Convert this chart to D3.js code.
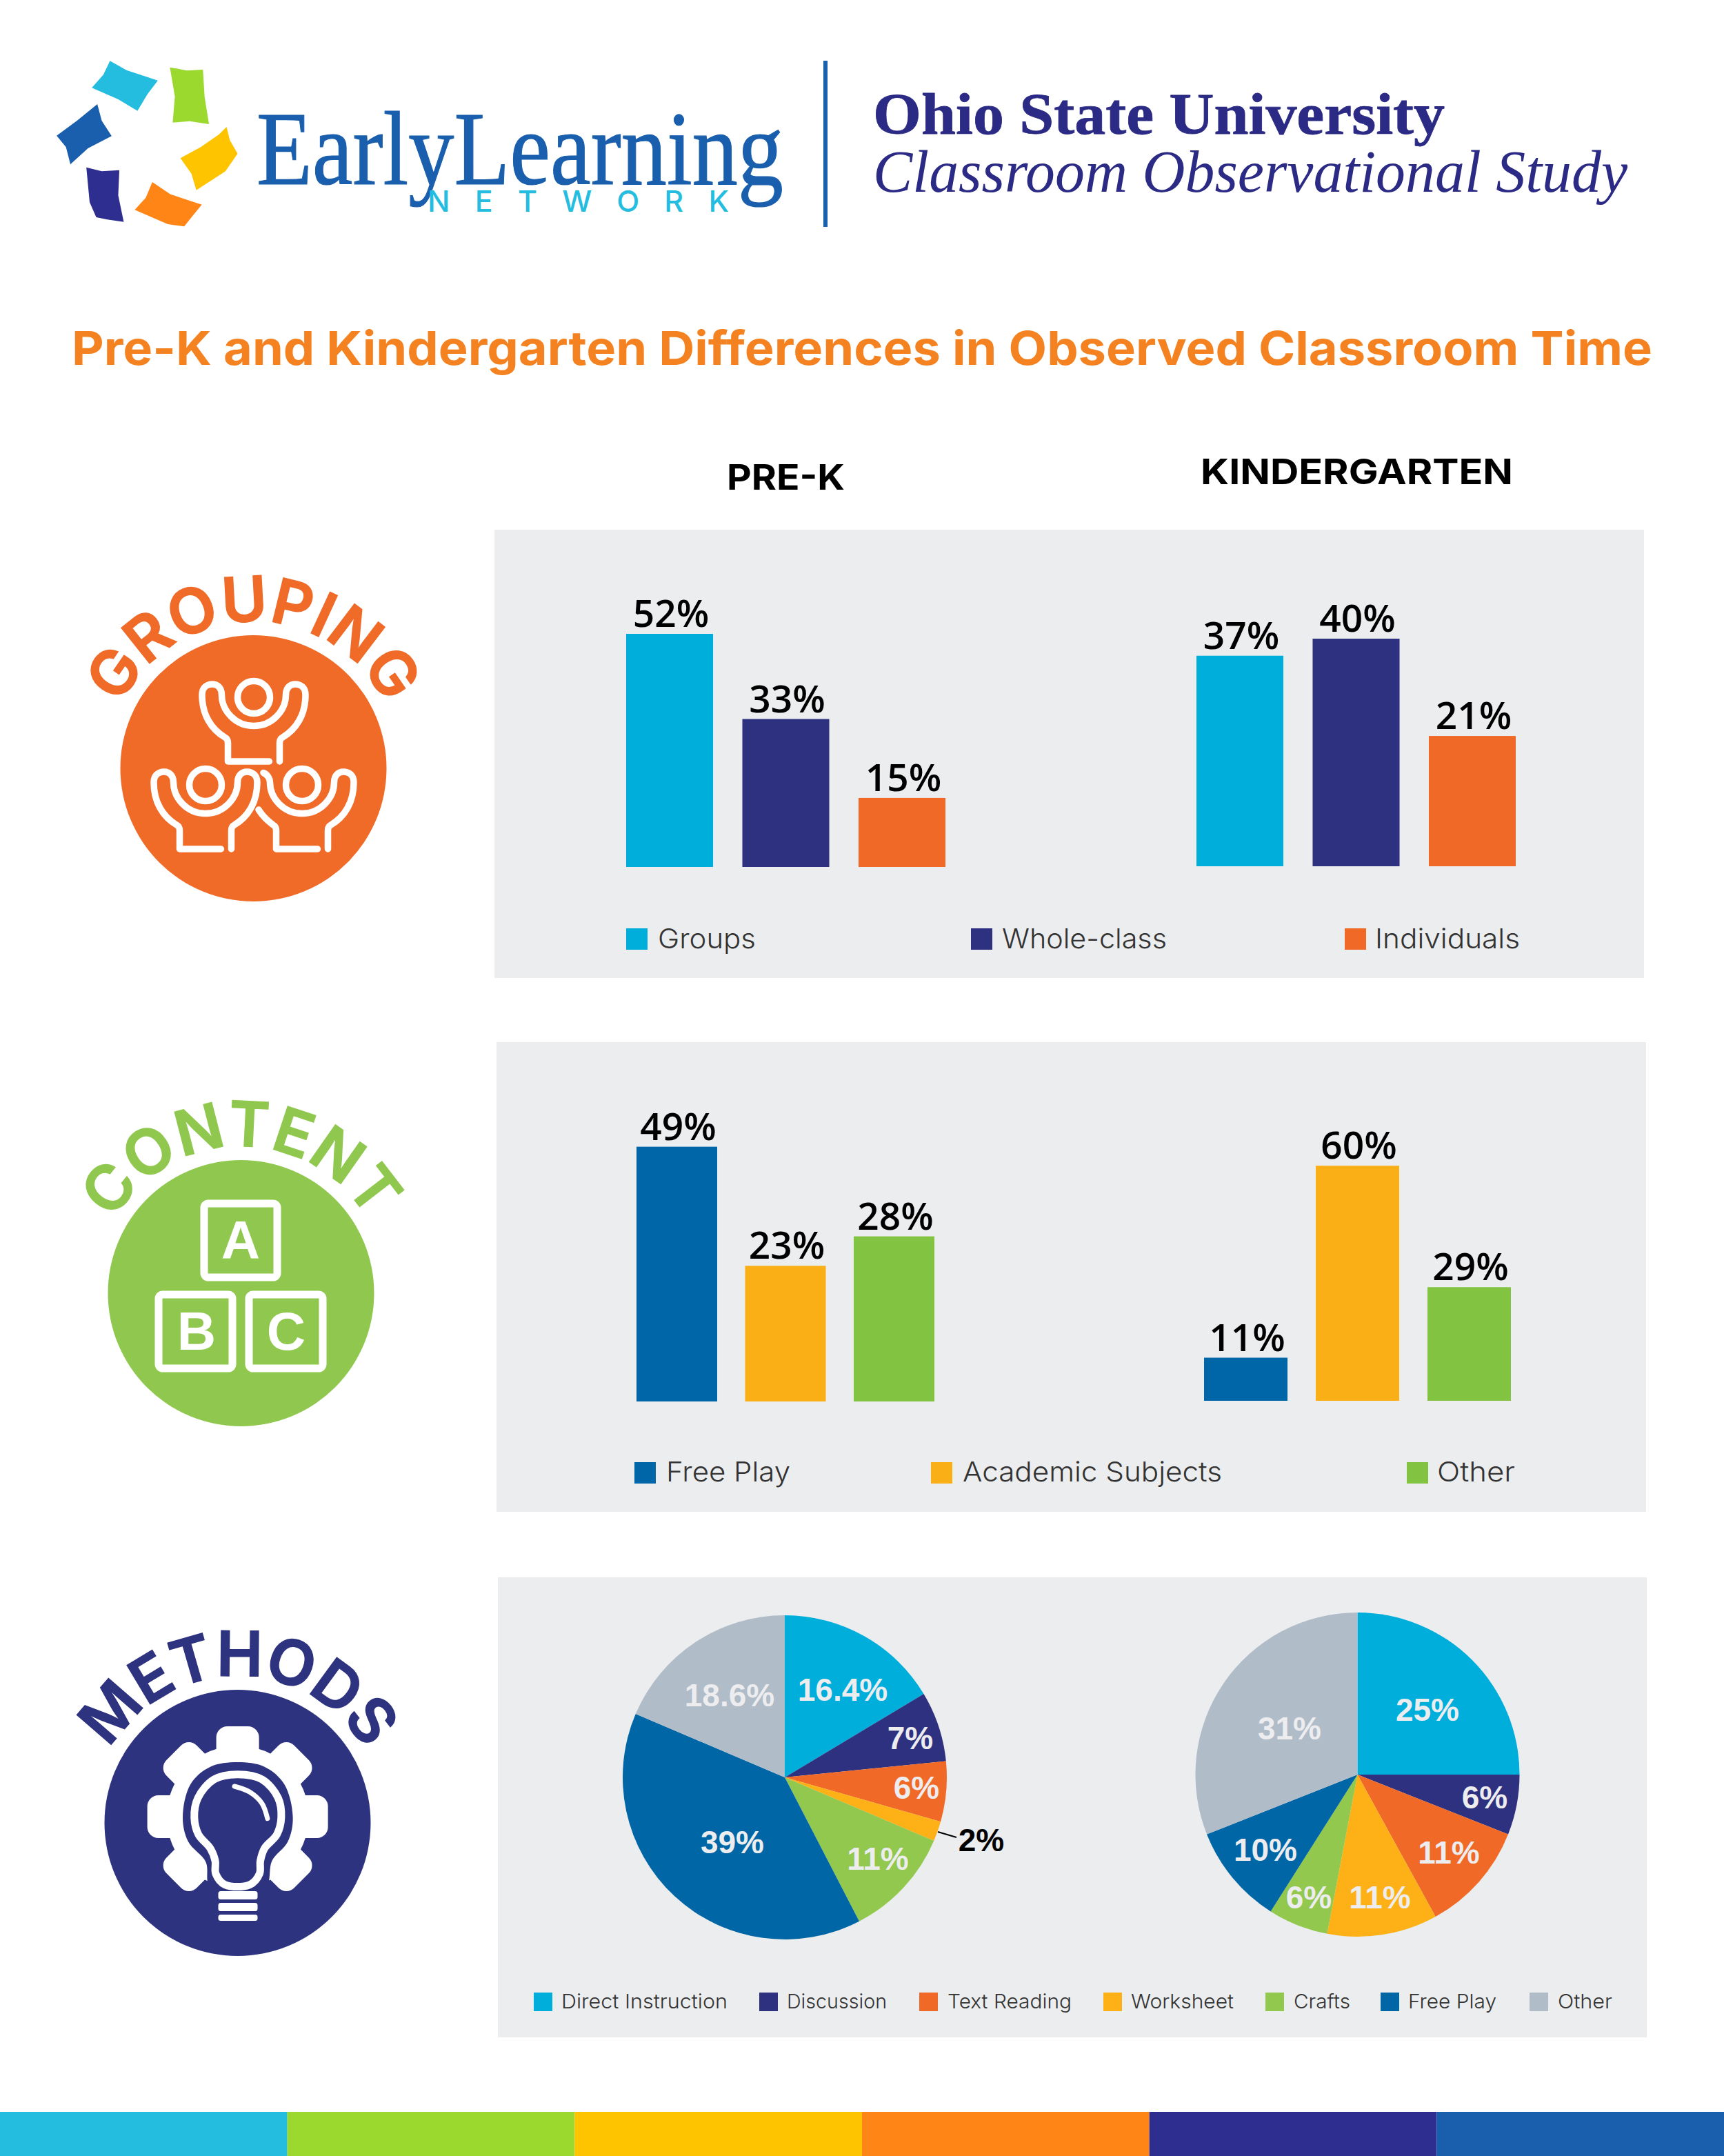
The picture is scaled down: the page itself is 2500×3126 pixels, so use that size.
<!DOCTYPE html>
<html>
<head>
<meta charset="utf-8">
<script src="https://cdn.jsdelivr.net/npm/d3@7"></script>
<style>
  body { margin: 0; background: #fff; }
  text { font-family: Inter, sans-serif; }
</style>
</head>
<body>
<div id="chart"></div>
<script>
// printed labels
var groupingNames = ["Groups", "Whole-class", "Individuals"];
var groupingPreK = [52, 33, 15];
var groupingKinder = [37, 40, 21];
var contentNames = ["Free Play", "Academic Subjects", "Other"];
var contentPreK = [49, 23, 28];
var contentKinder = [11, 60, 29];
var methodNames = ["Direct Instruction", "Discussion", "Text Reading", "Worksheet", "Crafts", "Free Play", "Other"];
var methodsPreK = [16.4, 7, 6, 2, 11, 39, 18.6];
var methodsKinder = [25, 6, 11, 11, 6, 10, 31];

// the poster's bars are not all to scale with their own labels, these are the drawn lengths
var groupingPreKDrawn = [52, 33, 15.4];
var groupingKinderDrawn = [37, 40, 22.9];
var contentPreKDrawn = [43.2, 23, 28];
var contentKinderDrawn = [11, 60, 29];

var width = 2500, height = 3126;
var svg = d3.select("#chart").append("svg").attr("width", width).attr("height", height).style("display", "block");
svg.append("rect").attr("width", width).attr("height", height).attr("fill", "#fff");

var blue = "#00AEDB", navy = "#2E3180", orange = "#F06926", amber = "#FBAF17", steel = "#0066A8", lime = "#82C341";
var pieGreen = "#91C84D", grey = "#B0BCC8", panelBg = "#ECEDEF";

// header
var curve = d3.line().curve(d3.curveLinear);
var logoCrop = function(p) { return [p[0] / 1.254, 40 + p[1] / 3]; };
var logoShapes = [
  ["#24BDE0", [[200,145],[230,185],[287,230],[268,290],[250,362],[215,312],[167,262],[188,205]]],
  ["#9BD92F", [[309,173],[340,187],[369,183],[372,300],[380,420],[345,407],[314,413],[318,300]]],
  ["#1A5FAD", [[177,333],[185,405],[203,472],[160,525],[128,595],[120,520],[103,470],[140,405]]],
  ["#FFC400", [[412,432],[418,490],[432,548],[410,625],[357,707],[348,635],[328,568],[365,520],[398,465]]],
  ["#2E2E90", [[157,608],[185,625],[217,620],[215,730],[225,845],[195,835],[175,825],[163,760]]],
  ["#FF8516", [[277,672],[310,725],[367,770],[350,820],[335,865],[305,855],[245,793],[265,740]]]
];
svg.append("g").selectAll("path").data(logoShapes).enter().append("path")
  .attr("fill", function(d) { return d[0]; })
  .attr("d", function(d) { return curve(d[1].map(logoCrop)) + "Z"; });

function fitText(x, y, txt, len, size, fill, family, weight, style, anchor) {
  return svg.append("text").attr("x", x).attr("y", y).text(txt)
    .attr("textLength", len).attr("lengthAdjust", "spacingAndGlyphs")
    .attr("font-size", size).attr("fill", fill)
    .style("font-family", family).style("font-weight", weight || 400).style("font-style", style || "normal")
    .attr("text-anchor", anchor || "start");
}

var serif = "'Liberation Serif', serif";
fitText(372, 267, "EarlyLearning", 764, 152, "#1A5FAD", serif).attr("stroke", "#1A5FAD").attr("stroke-width", 1.2);
svg.append("text").attr("x", 620).attr("y", 307).text("NETWORK")
  .attr("textLength", 437).attr("lengthAdjust", "spacing")
  .attr("font-size", 43).attr("fill", "#24BDE0").style("font-family", "Inter, sans-serif").style("font-weight", 500);
svg.append("rect").attr("x", 1194).attr("y", 88).attr("width", 6).attr("height", 241).attr("fill", "#1A5FAD");
fitText(1266, 194, "Ohio State University", 829, 84, "#2B2A85", serif, 700).attr("stroke", "#2B2A85").attr("stroke-width", 0.8);
fitText(1266, 278, "Classroom Observational Study", 1094, 86, "#2B2A85", serif, 400, "italic");

fitText(104, 529, "Pre-K and Kindergarten Differences in Observed Classroom Time", 2292, 68, "#F58220", "Inter, sans-serif", 700);
fitText(1054, 710, "PRE-K", 171, 51, "#000", "Inter, sans-serif", 700);
fitText(1741, 702, "KINDERGARTEN", 453, 51, "#000", "Inter, sans-serif", 700);

// panels
var panels = [[717, 768, 1667, 650], [720, 1511, 1667, 681], [722, 2287, 1666, 667]];
svg.append("g").selectAll("rect").data(panels).enter().append("rect")
  .attr("x", function(d) { return d[0]; }).attr("y", function(d) { return d[1]; })
  .attr("width", function(d) { return d[2]; }).attr("height", function(d) { return d[3]; })
  .attr("fill", panelBg);

// bars: x edges of each chart come from a band scale, y from a per-chart linear scale
function barChart(labels, drawn, names, colors, left, right, baseline, pxPerUnit, padding) {
  var x = d3.scaleBand().domain(names).range([left, right]).paddingInner(padding);
  var top = d3.max(drawn);
  var y = d3.scaleLinear().domain([0, top]).range([baseline, baseline - top * pxPerUnit]);
  var g = svg.append("g");
  g.selectAll("rect").data(names).enter().append("rect")
    .attr("x", function(d) { return x(d); })
    .attr("width", x.bandwidth())
    .attr("y", function(d, i) { return y(drawn[i]); })
    .attr("height", function(d, i) { return baseline - y(drawn[i]); })
    .attr("fill", function(d, i) { return colors[i]; });
  g.selectAll("text").data(names).enter().append("text")
    .attr("x", function(d) { return x(d) + x.bandwidth() / 2 + 2; })
    .attr("y", function(d, i) { return y(drawn[i]) - 10; })
    .attr("text-anchor", "middle")
    .attr("font-size", 55)
    .style("font-family", "'Open Sans', sans-serif").style("font-weight", 600)
    .attr("fill", "#000")
    .text(function(d, i) { return labels[i] + "%"; });
}
var groupingColors = [blue, navy, orange];
var contentColors = [steel, amber, lime];
barChart(groupingPreK, groupingPreKDrawn, groupingNames, groupingColors, 908, 1371, 1257, 6.5, 0.252);
barChart(groupingKinder, groupingKinderDrawn, groupingNames, groupingColors, 1735, 2198, 1256, 8.25, 0.252);
barChart(contentPreK, contentPreKDrawn, contentNames, contentColors, 923, 1355, 2032, 8.55, 0.257);
barChart(contentKinder, contentKinderDrawn, contentNames, contentColors, 1746, 2191, 2031, 5.68, 0.253);

// legends
function legend(names, colors, swatchX, textX, textEnd, swatchY, sw, sh, baseline, size) {
  names.forEach(function(n, i) {
    svg.append("rect").attr("x", swatchX[i]).attr("y", swatchY).attr("width", sw).attr("height", sh).attr("fill", colors[i]);
    fitText(textX[i], baseline, n, textEnd[i] - textX[i], size, "#333", "Inter, sans-serif", 300);
  });
}
legend(groupingNames, groupingColors, [908, 1408, 1950], [954, 1453, 1994], [1096, 1692, 2204], 1346, 31, 31, 1375, 40);
legend(contentNames, contentColors, [920, 1350, 2040], [966, 1396, 2084], [1146, 1772, 2197], 2120, 31, 31, 2148, 40);
var pieColors = [blue, navy, orange, "#FDB116", pieGreen, "#0066A6", grey];
legend(methodNames, pieColors, [774, 1101, 1333, 1600, 1835, 2002, 2218],
  [814, 1141, 1374, 1640, 1876, 2042, 2259], [1055, 1286, 1554, 1789, 1958, 2170, 2338], 2889, 27, 27, 2912, 29);

// pies
var pie = d3.pie().sort(null).value(function(d) { return d; });
var arc = d3.arc().innerRadius(0).outerRadius(235);
function pieChart(values, cx, cy, labelPos) {
  var g = svg.append("g").attr("transform", "translate(" + cx + "," + cy + ")");
  g.selectAll("path").data(pie(values)).enter().append("path")
    .attr("d", arc).attr("fill", function(d, i) { return pieColors[i]; });
  svg.append("g").selectAll("text").data(values).enter().append("text")
    .attr("x", function(d, i) { return labelPos[i][0]; })
    .attr("y", function(d, i) { return labelPos[i][1]; })
    .attr("text-anchor", "middle").attr("font-size", 46)
    .style("font-family", "'Liberation Sans', sans-serif").style("font-weight", 700)
    .attr("fill", function(d, i) { return labelPos[i][2] || "#EDEDEF"; })
    .text(function(d) { return d + "%"; });
}
pieChart(methodsPreK, 1138, 2577, [[1222, 2466], [1320, 2536], [1329, 2608], [1423, 2684, "#000"], [1273, 2711], [1062, 2687], [1058, 2474]]);
pieChart(methodsKinder, 1968.5, 2573, [[2070, 2495], [2153, 2622], [2101, 2702], [2001, 2767], [1898, 2767], [1835, 2698], [1870, 2522]]);
svg.append("line").attr("x1", 1360).attr("y1", 2656).attr("x2", 1387).attr("y2", 2664).attr("stroke", "#000").attr("stroke-width", 2);

// section badges
function badge(name, cx, cy, color, spacing, size) {
  svg.append("circle").attr("cx", cx).attr("cy", cy).attr("r", 193).attr("fill", color);
  var r = 213;
  svg.append("path").attr("id", "arc-" + name).attr("fill", "none")
    .attr("d", "M" + (cx - r) + "," + cy + " A" + r + "," + r + " 0 0 1 " + (cx + r) + "," + cy);
  svg.append("text").attr("font-size", size).attr("fill", color).attr("text-anchor", "middle")
    .attr("stroke", color).attr("stroke-width", 1.5)
    .style("font-weight", 600).style("letter-spacing", spacing + "px")
    .append("textPath").attr("href", "#arc-" + name).attr("startOffset", "50%").text(name);
}
badge("GROUPING", 367.5, 1114, "#F06A28", 0, 90);
badge("CONTENT", 349.5, 1875, "#90C84F", 0.5, 90);
badge("METHODS", 344.5, 2643, "#2E3380", -1.5, 90);

// grouping icon
function person(hx, hy, cut) {
  var g = svg.append("g").attr("transform", "translate(" + hx + "," + hy + ")")
    .attr("fill", "none").attr("stroke", "#fff").attr("stroke-width", 9.5).attr("stroke-linecap", "round").attr("stroke-linejoin", "round");
  g.append("circle").attr("r", 23.5);
  var right = "M37.5,93 V66 Q37.5,60 42,58 C62,46 75,25 75,-3.5 C75,-13 69,-19 60,-19 C52,-19 46.5,-13 46.5,-3.5 C46.5,20 26,41.5 0,41.5 C-26,41.5 -46.5,20 -46.5,-3.5";
  if (cut) {
    g.append("path").attr("d", right + " C-46.5,-9 -50,-15 -56,-17.5");
    g.append("path").attr("d", "M-63,36 C-58,44 -50,52 -42,58 Q-37.5,60 -37.5,66 V93 H22.5");
  } else {
    g.append("path").attr("d", right + " C-46.5,-13 -52,-19 -60,-19 C-69,-19 -75,-13 -75,-3.5 C-75,25 -62,46 -42,58 Q-37.5,60 -37.5,66 V93 H22.5");
  }
}
person(368, 1011);
person(298, 1138);
person(438, 1138, true);

// content icon
var blocks = [["A", 296, 1745, 106, 107, 349, 1825], ["B", 230, 1877, 107, 107, 285, 1957], ["C", 361, 1877, 107, 107, 415, 1957]];
blocks.forEach(function(b) {
  svg.append("rect").attr("x", b[1]).attr("y", b[2]).attr("width", b[3]).attr("height", b[4]).attr("rx", 6)
    .attr("fill", "none").attr("stroke", "#fff").attr("stroke-width", 11);
  svg.append("text").attr("x", b[5]).attr("y", b[6]).attr("text-anchor", "middle").attr("font-size", 78)
    .style("font-family", "'Liberation Sans', sans-serif").style("font-weight", 700).attr("fill", "#fff").text(b[0]);
});

// methods icon
var gearX = 344.6, gearY = 2634;
var gear = svg.append("g").attr("transform", "translate(" + gearX + "," + gearY + ")").attr("fill", "#fff");
gear.append("circle").attr("r", 103);
d3.range(8).filter(function(i) { return i !== 4; }).forEach(function(i) {
  gear.append("rect").attr("x", -31).attr("y", -131).attr("width", 62).attr("height", 60).attr("rx", 16)
    .attr("transform", "rotate(" + (i * 45) + ")");
});
var bulbCrop = function(p) { return [80 + p[0] / 2.8, 2340 + p[1] / 3]; };
var smooth = d3.line().curve(d3.curveCatmullRomClosed);
var halo = [[741,645],[850,665],[930,740],[965,885],[945,990],[880,1075],[865,1170],[840,1200],[640,1200],[620,1170],[612,1080],[540,990],[518,885],[550,740],[630,665]];
var bulb = [[741,698],[840,720],[905,800],[918,885],[900,960],[850,1020],[833,1075],[830,1130],[790,1178],[690,1178],[652,1130],[650,1075],[630,1020],[582,960],[565,885],[580,800],[645,720]];
svg.append("path").attr("d", smooth(halo.map(bulbCrop))).attr("fill", "#2E3380");
svg.append("path").attr("d", smooth(bulb.map(bulbCrop))).attr("fill", "#2E3380").attr("stroke", "#fff").attr("stroke-width", 11);
svg.append("path").attr("d", d3.line().curve(d3.curveCatmullRom)([[728,750],[790,775],[840,825],[862,890]].map(bulbCrop)))
  .attr("fill", "none").attr("stroke", "#fff").attr("stroke-width", 7).attr("stroke-linecap", "round");
[[2742, 12], [2759, 12], [2776, 9]].forEach(function(b) {
  svg.append("rect").attr("x", 316.5).attr("y", b[0]).attr("width", 57).attr("height", b[1]).attr("rx", 3.5).attr("fill", "#fff");
});

// bottom stripe
var stripeColors = ["#24BDE0", "#9BD92F", "#FFC400", "#FF8516", "#2E2E90", "#1A5FAD"];
var stripe = d3.scaleBand().domain(d3.range(6)).range([0, width]);
svg.append("g").selectAll("rect").data(stripeColors).enter().append("rect")
  .attr("x", function(d, i) { return stripe(i); }).attr("y", 3062)
  .attr("width", stripe.bandwidth()).attr("height", 64)
  .attr("fill", function(d) { return d; });
</script>
</body>
</html>
